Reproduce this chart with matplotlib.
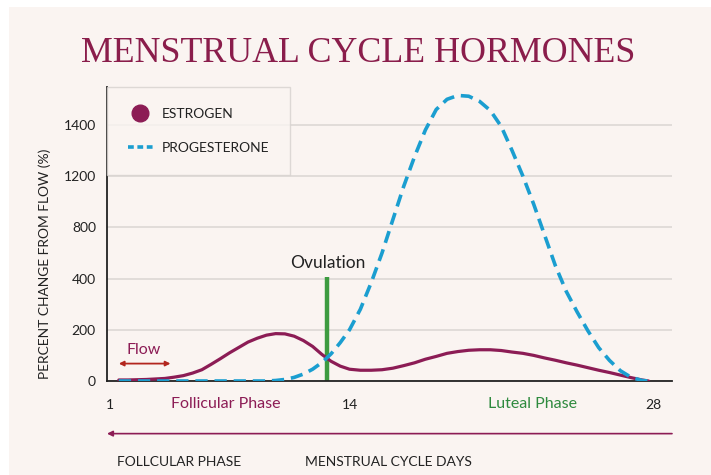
import numpy as np
import matplotlib
matplotlib.use("Agg")
import matplotlib.pyplot as plt
from matplotlib.lines import Line2D
from matplotlib.patches import Rectangle
import matplotlib.transforms as mtransforms

# ---- data -------------------------------------------------------------
days = [1.5, 2, 2.5, 3, 3.5, 4, 4.5, 5, 5.5, 6, 6.5, 7, 7.5, 8, 8.5, 9, 9.5,
        10, 10.5, 11, 11.5, 12, 12.5, 13, 13.5, 14, 14.5, 15, 15.5, 16, 16.5,
        17, 17.5, 18, 18.5, 19, 19.5, 20, 20.5, 21, 21.5, 22, 22.5, 23, 23.5,
        24, 24.5, 25, 25.5, 26, 26.5, 27, 27.5, 27.8]

estrogen = [4, 4, 5, 6, 8, 10, 15, 21, 31, 44, 65, 87, 110, 131, 152, 167, 179,
            185, 184, 175, 158, 135, 104, 77, 58, 46, 42, 42, 44, 50, 60,
            71, 85, 96, 108, 115, 120, 122, 122, 119, 113, 108, 100, 90, 81,
            71, 62, 52, 42, 33, 23, 13, 4, 0]

progesterone = [0, 0, 0, 0, 0, 0, 0, 0, 0, 0, 0, 0, 0, 0, 0, 0, 0,
                2, 6, 14, 27, 46, 72, 106, 150, 200, 280, 384, 600, 860, 1120,
                1276, 1380, 1460, 1500, 1515, 1512, 1492, 1456, 1394, 1300, 1200, 980, 740, 500,
                350, 270, 196, 130, 80, 40, 14, 2, 0]

ovulation_day = 12.8
ovulation_top = 410

y_ticks = [0, 200, 400, 800, 1200, 1400]
x_ticks = [1, 14, 28]
series_labels = ["ESTROGEN", "PROGESTERONE"]

# ---- colours ----------------------------------------------------------
BG = "#faf4f1"
MAROON = "#8c1c55"
TITLE = "#8a1d4b"
BLUE = "#1b9ed0"
GREEN = "#3d9b40"
GREEN_TXT = "#2e8a3e"
RED = "#b3261e"
INK = "#222222"
GRID = "#dad5d2"

SANS = ["Lato", "DejaVu Sans"]
plt.rcParams["font.family"] = SANS

# ---- piecewise axis scales -------------------------------------------
# y: ticks are evenly spaced although their values are not
_yv = np.array([-200, 0, 200, 400, 800, 1200, 1400, 3400], float)
_yp = np.array([-1, 0, 1, 2, 3, 4, 5, 15], float)
def y_fwd(v):
    return np.interp(v, _yv, _yp)
def y_inv(p):
    return np.interp(p, _yp, _yv)

# x: the first half of the cycle is drawn a little narrower than the second
_xd = np.array([-99, 1, 14, 28, 128], float)
_xp = np.array([-100 * 18.45, 0, 240, 543.5, 543.5 + 100 * 21.68])
def x_fwd(d):
    return np.interp(d, _xd, _xp)
def x_inv(p):
    return np.interp(p, _xp, _xd)

# ---- figure -----------------------------------------------------------
fig = plt.figure(figsize=(7.11, 4.75), dpi=100, facecolor="white")
fig.patches.append(Rectangle((9 / 711, 0), 1, 1 - 7 / 475, transform=fig.transFigure,
                             facecolor=BG, edgecolor="none", zorder=-10))

ax = fig.add_axes([107 / 711, 1 - 381 / 475, 565 / 711, 294 / 475])
ax.set_facecolor(BG)
ax.set_xscale("function", functions=(x_fwd, x_inv))
ax.set_yscale("function", functions=(y_fwd, y_inv))
ax.set_xlim(0.86, 28.88)
ax.set_ylim(0, 1548)

ax.set_yticks(y_ticks)
ax.set_yticklabels([str(v) for v in y_ticks])
ax.set_xticks(x_ticks)
ax.set_xticklabels([str(v) for v in x_ticks])
ax.xaxis.set_minor_locator(matplotlib.ticker.NullLocator())
ax.yaxis.set_minor_locator(matplotlib.ticker.NullLocator())
ax.tick_params(axis="y", length=0, pad=8, labelsize=10, labelcolor=INK)
ax.tick_params(axis="x", length=0, pad=13, labelsize=10, labelcolor=INK)

ax.grid(axis="y", color=GRID, linewidth=1.1)
ax.set_axisbelow(True)
for side in ("top", "right"):
    ax.spines[side].set_visible(False)
for side in ("left", "bottom"):
    ax.spines[side].set_color(INK)
    ax.spines[side].set_linewidth(1.3)

# ovulation marker
ax.vlines(ovulation_day, 0, ovulation_top, color=GREEN, linewidth=3.2, zorder=2)
ax.text(ovulation_day, 522, "Ovulation", ha="center", va="center",
        fontsize=12.5, color=INK, zorder=5)

# hormone curves
ax.plot(days, estrogen, color=MAROON, linewidth=2.3, solid_capstyle="round",
        solid_joinstyle="round", zorder=3)
ax.plot(days, progesterone, color=BLUE, linewidth=2.6, dashes=(3.4, 1.9), zorder=4)

# flow annotation
ax.annotate("", xy=(1.5, 68), xytext=(4.3, 68),
            arrowprops=dict(arrowstyle="<|-|>", color=RED, lw=1.3, mutation_scale=7,
                            shrinkA=0, shrinkB=0))
ax.text(2.86, 123, "Flow", ha="center", va="center", fontsize=11.5, color=MAROON)

# phase names under the axis
xblend = mtransforms.blended_transform_factory(ax.transData, ax.transAxes)
ax.text(7.3, -0.078, "Follicular Phase", transform=xblend, ha="center", va="center",
        fontsize=11.5, color=MAROON)
ax.text(22.46, -0.078, "Luteal Phase", transform=xblend, ha="center", va="center",
        fontsize=11.5, color=GREEN_TXT)

# bottom arrow and captions
ax.annotate("", xy=(0.0, -0.179), xytext=(1.0, -0.179), xycoords="axes fraction",
            textcoords="axes fraction", annotation_clip=False,
            arrowprops=dict(arrowstyle="-|>", color=MAROON, lw=1.2, mutation_scale=8,
                            shrinkA=0, shrinkB=0))
ax.text(0.0177, -0.274, "FOLLCULAR PHASE", transform=ax.transAxes, ha="left",
        va="center", fontsize=10, color=INK)
ax.text(0.351, -0.274, "MENSTRUAL CYCLE DAYS", transform=ax.transAxes, ha="left",
        va="center", fontsize=10, color=INK)

# y label
fig.text(45 / 711, 1 - 264 / 475, "PERCENT CHANGE FROM FLOW (%)", rotation=90,
         ha="center", va="center", fontsize=9.9, color=INK)

# title
fig.text(358 / 711, 1 - 62 / 475, "MENSTRUAL CYCLE HORMONES", ha="center",
         va="baseline", fontsize=25.8, color=TITLE, family=["Liberation Serif", "DejaVu Serif"])

# legend
handles = [
    Line2D([], [], color=MAROON, marker="o", linestyle="none", markersize=12),
    Line2D([], [], color=BLUE, linewidth=2.6, dashes=(1.6, 1.0)),
]
leg = ax.legend(handles, series_labels, loc="upper left", bbox_to_anchor=(0, 1),
                borderaxespad=0, frameon=True, fancybox=False, fontsize=10,
                handlelength=1.8, handletextpad=0.65, borderpad=1.5, labelspacing=1.6,
                labelcolor=INK)
leg.get_frame().set_facecolor(BG)
leg.get_frame().set_edgecolor("#d6d1ce")
leg.get_frame().set_linewidth(1.0)
leg.set_zorder(6)

fig.savefig("out.png", dpi=100, facecolor=fig.get_facecolor())
